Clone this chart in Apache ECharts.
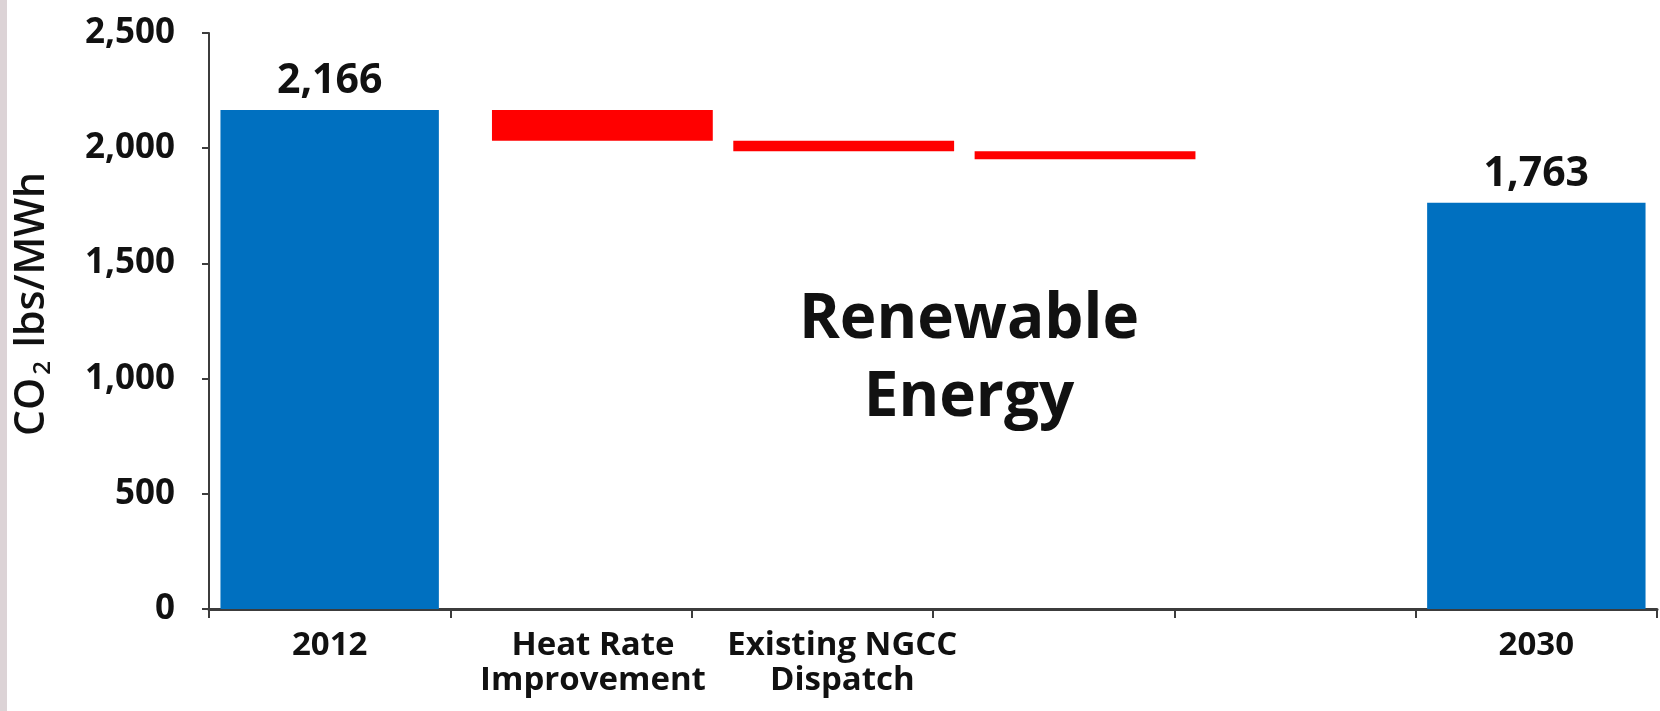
<!DOCTYPE html>
<html>
<head>
<meta charset="utf-8">
<script src="https://cdn.jsdelivr.net/npm/echarts@6/dist/echarts.min.js"></script>
<style>
  html, body { margin: 0; padding: 0; background: #fff; }
  #chart { width: 1660px; height: 711px; }
</style>
</head>
<body>
<div id="chart"></div>
<script>
// Category slots along the x axis (two unlabeled slots before 2030)
const categories = ['2012', 'Heat Rate\nImprovement', 'Existing NGCC\nDispatch', '', '', '2030'];
// Emission rate totals, CO2 lbs/MWh
const totalValues = [2166, null, null, null, null, 1763];
// Reduction steps: [slot index, level before, level after]
const stepFrom = [2166, 2032, 1987];
const stepTo = [2032, 1987, 1952];
const stepSlots = [1, 2, 3];
// Y axis ticks
const yMin = 0, yMax = 2500, yStep = 500;

const FONT = '"Open Sans", "Noto Sans", sans-serif';
const BLUE = '#0070c0';
const RED = '#ff0000';

const stepData = stepSlots.map((s, i) => [s, stepFrom[i], stepTo[i]]);
// label nudges for the step categories (left padding, px)
const labelPad = { 1: 44, 2: 60 };

const chart = echarts.init(document.getElementById('chart'), null, { renderer: 'canvas' });

const xRich = {};
Object.keys(labelPad).forEach(k => {
  xRich['s' + k] = {
    fontFamily: FONT, fontWeight: 'bold', fontSize: 33, lineHeight: 35,
    color: '#111', padding: [0, 0, 0, labelPad[k]]
  };
});

chart.setOption({
  backgroundColor: '#ffffff',
  animation: false,
  grid: { left: 209, right: 3, top: 33, bottom: 102, containLabel: false, outerBoundsMode: 'none' },
  xAxis: {
    type: 'category',
    data: categories,
    boundaryGap: true,
    axisLine: { lineStyle: { color: '#3c3c3c', width: 3 } },
    axisTick: { show: true, alignWithLabel: false, length: 9, inside: false, lineStyle: { color: '#3c3c3c', width: 2 } },
    axisLabel: {
      interval: 0,
      margin: 19,
      color: '#111',
      fontFamily: FONT,
      fontWeight: 'bold',
      fontSize: 33,
      lineHeight: 35,
      formatter: function (value, idx) {
        if (!value) return '';
        if (labelPad[idx] !== undefined) {
          return value.split('\n').map(l => '{s' + idx + '|' + l + '}').join('\n');
        }
        return value;
      },
      rich: xRich
    },
    splitLine: { show: false }
  },
  yAxis: {
    type: 'value',
    min: yMin,
    max: yMax,
    interval: yStep,
    name: '{p|CO}{sub|2}{a| lbs/MWh}',
    nameLocation: 'middle',
    nameGap: 154,
    nameRotate: 90,
    nameTextStyle: {
      rich: {
        p: { fontFamily: FONT, fontWeight: 600, fontSize: 41, color: '#111', padding: [0, 0, 0, 34] },
        a: { fontFamily: FONT, fontWeight: 600, fontSize: 41, color: '#111' },
        sub: { fontFamily: FONT, fontWeight: 600, fontSize: 24, color: '#111', padding: [21, 3, 0, 3] }
      }
    },
    axisLine: { show: true, lineStyle: { color: '#3c3c3c', width: 2 } },
    axisTick: { show: true, length: 7, lineStyle: { color: '#3c3c3c', width: 2 } },
    axisLabel: {
      margin: 34,
      color: '#111',
      fontFamily: FONT,
      fontWeight: 'bold',
      fontSize: 35,
      formatter: v => v.toLocaleString('en-US')
    },
    splitLine: { show: false }
  },
  graphic: [
    { type: 'rect', x: 0, y: 0, shape: { width: 7, height: 711 }, style: { fill: '#dcd3d6' }, silent: true },
    {
      type: 'text', x: 969, y: 281,
      style: {
        text: 'Renewable\nEnergy',
        align: 'center',
        verticalAlign: 'top',
        fill: '#111',
        font: 'bold 62px ' + FONT,
        lineHeight: 78
      }
    }
  ],
  series: [
    {
      name: 'Total',
      type: 'bar',
      data: totalValues.map(v => (v == null ? '-' : v)),
      barWidth: '90.5%',
      itemStyle: { color: BLUE },
      label: {
        show: true,
        position: 'top',
        distance: 8,
        color: '#111',
        fontFamily: FONT,
        fontWeight: 'bold',
        fontSize: 41,
        formatter: p => Number(p.value).toLocaleString('en-US')
      }
    },
    {
      name: 'Reduction',
      type: 'custom',
      data: stepData,
      encode: { x: 0, y: [1, 2] },
      renderItem: function (params, api) {
        const slot = api.value(0);
        const top = api.coord([slot, api.value(1)]);
        const bottom = api.coord([slot, api.value(2)]);
        const band = api.size([1, 0])[0];
        const w = band * 0.915;
        const cx = top[0] + band * 0.13;
        return {
          type: 'rect',
          shape: { x: cx - w / 2, y: top[1], width: w, height: bottom[1] - top[1] },
          style: { fill: RED }
        };
      }
    }
  ]
});
</script>
</body>
</html>
